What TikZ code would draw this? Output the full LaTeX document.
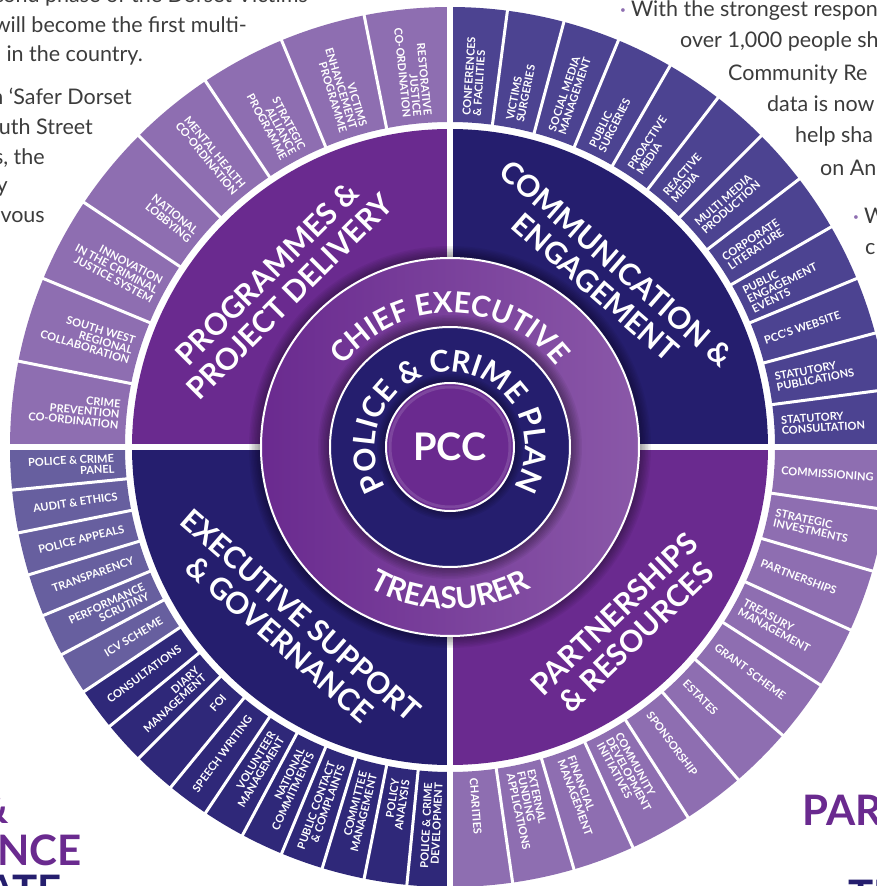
\documentclass[tikz,border=0pt]{standalone}
\usepackage{fontspec}
\setmainfont{Lato}
\usetikzlibrary{
  decorations.text
}
\definecolor{pccpurple}{HTML}{6A2A8F}
\definecolor{pccnavy}{HTML}{251E6E}
\definecolor{lilac}{HTML}{8E6EB1}
\definecolor{slate}{HTML}{4C4391}
\definecolor{paleslate}{HTML}{675F9F}
\definecolor{deepslate}{HTML}{2F2879}
\definecolor{ringlight}{HTML}{8A58A8}
\definecolor{bodygrey}{HTML}{3C3C3C}
\tikzset{
  x=1pt, y=1pt,
  segment/.style={inner sep=0pt, text=white, font=\bfseries\fontsize{11}{10.5}\selectfont},
  inward/.style={segment, anchor=east, align=right},
  outward/.style={segment, anchor=west, align=left},
  division/.style={white, line width=3pt},
  quadrant/.style={white, line width=6pt},
  heading/.style={text=white, align=center, font=\bfseries\fontsize{30}{32}\selectfont},
  body/.style={inner sep=0pt, text=bodygrey, font=\fontsize{21.5}{21.5}\selectfont},
  banner/.style={inner sep=0pt, font=\bfseries\fontsize{42}{42}\selectfont}
}
\newcommand{\bul}{{\color{lilac}\fontsize{10}{10}\selectfont\raisebox{3.5pt}{•}}\hspace{5pt}}

\begin{document}
\begin{tikzpicture}
  \useasboundingbox (-450,-439) rectangle (427,447);
  \clip (-450,-439) rectangle (427,447);
  \fill[white] (-450,-439) rectangle (427,447);

  % outer ring
  \fill[lilac]     (90:325) arc[start angle=90, end angle=180, radius=325] -- (180:440) arc[start angle=180, end angle=90, radius=440] -- cycle;
  \fill[slate]     (0:325) arc[start angle=0, end angle=90, radius=325] -- (90:440) arc[start angle=90, end angle=0, radius=440] -- cycle;
  \fill[lilac]     (-90:325) arc[start angle=-90, end angle=0, radius=325] -- (0:440) arc[start angle=0, end angle=-90, radius=440] -- cycle;
  \fill[paleslate] (180:325) arc[start angle=180, end angle=213.75, radius=325] -- (213.75:440) arc[start angle=213.75, end angle=180, radius=440] -- cycle;
  \fill[deepslate] (213.75:325) arc[start angle=213.75, end angle=270, radius=325] -- (270:440) arc[start angle=270, end angle=213.75, radius=440] -- cycle;

  \foreach \i in {1,...,7}  \draw[division] ({90+\i*11.25}:322) -- ({90+\i*11.25}:445);
  \foreach \i in {1,...,11} \draw[division] ({\i*7.5}:322) -- ({\i*7.5}:445);
  \foreach \i in {1,...,10} \draw[division] ({-\i*90/11}:322) -- ({-\i*90/11}:445);
  \foreach \i in {1,...,15} \draw[division] ({180+\i*5.625}:322) -- ({180+\i*5.625}:445);

  % quadrants
  \fill[pccpurple] (0,0) -- (90:318) arc[start angle=90, end angle=180, radius=318] -- cycle;
  \fill[pccnavy]   (0,0) -- (0:318) arc[start angle=0, end angle=90, radius=318] -- cycle;
  \fill[pccpurple] (0,0) -- (-90:318) arc[start angle=-90, end angle=0, radius=318] -- cycle;
  \fill[pccnavy]   (0,0) -- (180:318) arc[start angle=180, end angle=270, radius=318] -- cycle;
  \draw[quadrant] (-450,0) -- (450,0);
  \draw[quadrant] (0,-450) -- (0,450);

  % ring labels
  \foreach \txt [count=\i] in {CRIME\\PREVENTION\\CO-ORDINATION, SOUTH WEST\\REGIONAL\\COLLABORATION,
      INNOVATION\\IN THE CRIMINAL\\JUSTICE SYSTEM, NATIONAL\\LOBBYING, MENTAL HEALTH\\CO-ORDINATION,
      STRATEGIC\\ALLIANCE\\PROGRAMME, VICTIMS\\ENHANCEMENT\\PROGRAMME, RESTORATIVE\\JUSTICE\\CO-ORDINATION}
    \node[inward, rotate={360-(\i-0.5)*11.25}] (tl\i) at ({180-(\i-0.5)*11.25}:332) {\txt};

  \foreach \txt [count=\i] in {CONFERENCES\\\& FACILITIES, VICTIMS\\SURGERIES, SOCIAL MEDIA\\MANAGEMENT,
      PUBLIC\\SURGERIES, PROACTIVE\\MEDIA, REACTIVE\\MEDIA, MULTI MEDIA\\PRODUCTION, CORPORATE\\LITERATURE,
      PUBLIC\\ENGAGEMENT\\EVENTS, PCC’S WEBSITE, STATUTORY\\PUBLICATIONS, STATUTORY\\CONSULTATION}
    \node[outward, rotate={90-(\i-0.5)*7.5}] (tr\i) at ({90-(\i-0.5)*7.5}:332) {\txt};

  \foreach \txt [count=\i] in {COMMISSIONING, STRATEGIC\\INVESTMENTS, PARTNERSHIPS, TREASURY\\MANAGEMENT,
      GRANT SCHEME, ESTATES, SPONSORSHIP, COMMUNITY\\DEVELOPMENT\\INITIATIVES, FINANCIAL\\MANAGEMENT,
      EXTERNAL\\FUNDING\\APPLICATIONS, CHARITIES}
    \node[outward, rotate={-(\i-0.5)*90/11}] (br\i) at ({-(\i-0.5)*90/11}:332) {\txt};

  \foreach \txt [count=\i] in {POLICE \& CRIME\\PANEL, AUDIT \& ETHICS, POLICE APPEALS, TRANSPARENCY,
      PERFORMANCE\\SCRUTINY, ICV SCHEME, CONSULTATIONS, DIARY\\MANAGEMENT, FOI, SPEECH WRITING,
      VOLUNTEER\\MANAGEMENT, NATIONAL\\COMMITMENTS, PUBLIC CONTACT\\\& COMPLAINTS, COMMITTEE\\MANAGEMENT,
      POLICY\\ANALYSIS, POLICE \& CRIME\\DEVELOPMENT}
    \node[inward, rotate={(\i-0.5)*5.625}] (bl\i) at ({180+(\i-0.5)*5.625}:336) {\txt};

  % quadrant headings
  \node[heading, rotate=45]  (prog) at (136.7:236) {PROGRAMMES \&\\PROJECT DELIVERY};
  \node[heading, rotate=-41] (comm) at (47.8:232)  {COMMUNICATION \&\\ENGAGEMENT};
  \node[heading, rotate=-41] (exec) at (-131.6:241) {EXECUTIVE SUPPORT\\\& GOVERNANCE};
  \node[heading, rotate=44]  (part) at (-45.5:250) {PARTNERSHIPS\\\& RESOURCES};

  % centre
  \foreach \k in {1,...,8} \fill[black, opacity=.05] (0,0) circle ({189+\k*1.5});
  \shade[left color=pccpurple, right color=ringlight] (0,0) circle (189);
  \draw[white, line width=2pt] (0,0) circle (189);
  \foreach \k in {1,...,8} \fill[black, opacity=.05] (0,0) circle ({120+\k*1.5});
  \fill[pccnavy] (0,0) circle (120);
  \draw[white, line width=2pt] (0,0) circle (120);
  \foreach \k in {1,...,6} \fill[black, opacity=.06] (0,0) circle ({64+\k*1.5});
  \fill[pccpurple] (0,0) circle (64);
  \draw[ringlight!60!pccpurple, line width=3pt] (0,0) circle (60);
  \draw[white, line width=2pt] (0,0) circle (64);
  \node[text=white, font=\bfseries\fontsize{38}{38}\selectfont] (pcc) at (0,0) {PCC};

  \path[decorate, decoration={text along path, text align=center, text color=white,
      text={|\bfseries\fontsize{30}{30}\selectfont|POLICE {\&} CRIME PLAN}}]
    (230:75) arc[start angle=230, end angle=-50, radius=75];
  \path[decorate, decoration={text along path, text align=center, text color=white,
      text={|\bfseries\fontsize{29}{29}\selectfont|CHIEF EXECUTIVE}}]
    (160:134) arc[start angle=160, end angle=20, radius=134];
  \path[decorate, decoration={text along path, text align=center, text color=white,
      text={|\bfseries\fontsize{30}{30}\selectfont|TREASURER}}]
    (-140:162) arc[start angle=-140, end angle=-40, radius=162];

  % page text around the wheel
  \node[body, anchor=base east] (p1) at (-142,444) {cond phase of the Dorset Victims};
  \node[body, anchor=base east] (p2) at (-203,414) {will become the first multi-};
  \node[body, anchor=base east] (p3) at (-307,385) {in the country.};
  \node[body, anchor=base east] (p4) at (-318,342) {n ‘Safer Dorset};
  \node[body, anchor=base east] (p5) at (-357,312) {uth Street};
  \node[body, anchor=base east] (p6) at (-405,282) {s, the};
  \node[body, anchor=base east] (p7) at (-442,254) {y};
  \node[body, anchor=base east] (p8) at (-405,224) {zvous};

  \node[body, anchor=base west] (q1) at (170,430) {\bul With the strongest respon};
  \node[body, anchor=base west] (q2) at (230,399) {over 1,000 people sh};
  \node[body, anchor=base west] (q3) at (278,366) {Community Re};
  \node[body, anchor=base west] (q4) at (317,335) {data is now};
  \node[body, anchor=base west] (q5) at (345,304) {help sha};
  \node[body, anchor=base west] (q6) at (370,271) {on An};
  \node[body, anchor=base west] (q7) at (403,223) {\bul W};
  \node[body, anchor=base west] (q8) at (415,192) {c};

  \node[banner, text=pccpurple, anchor=base east] (amp) at (-441,-376) {\&};
  \node[banner, text=pccpurple, anchor=base east] (nce) at (-368,-418) {NCE};
  \node[banner, text=pccnavy, anchor=base east]   (ate) at (-388,-458) {ATE};
  \node[banner, text=pccpurple, anchor=base west] (prt) at (352,-378) {PART};
  \node[banner, text=pccnavy, anchor=base west]   (te)  at (398,-463) {TE};
\end{tikzpicture}
\end{document}
